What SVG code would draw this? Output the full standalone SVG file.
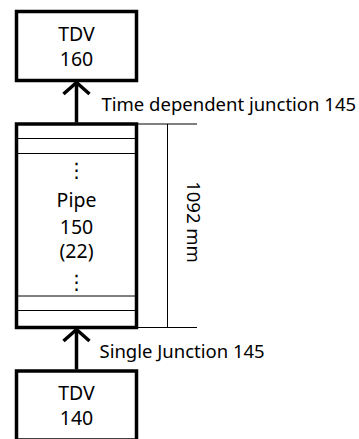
<svg xmlns="http://www.w3.org/2000/svg" width="359" height="439" viewBox="0 0 359 439">
<style>
  .box { fill: #ffffff; stroke: #000000; stroke-width: 3.5; }
  .thin { stroke: #000000; stroke-width: 1; fill: none; }
  .conn { stroke: #000000; stroke-width: 3.5; fill: none; }
  .t { font-family: "Noto Sans", "Liberation Sans", sans-serif; font-size: 19.5px; fill: #000000; text-anchor: middle; }
  .lbl { font-family: "Noto Sans", "Liberation Sans", sans-serif; font-size: 18.5px; fill: #000000; }
  .dots { font-family: "DejaVu Sans", sans-serif; font-size: 20px; fill: #000000; text-anchor: middle; }
</style>
<defs>
  <marker id="chev" markerUnits="userSpaceOnUse" orient="auto" overflow="visible" refX="0" refY="0" markerWidth="30" markerHeight="30">
    <path d="M-11.5,-13 L0,0 L-11.5,13" fill="none" stroke="#000000" stroke-width="3.5" stroke-linejoin="miter"/>
  </marker>
</defs>
<rect width="359" height="439" fill="#ffffff"/>

<g id="tdv160">
  <rect class="box" x="16.5" y="11.5" width="120" height="69"/>
  <text class="t" x="76.5" y="41">TDV</text>
  <text class="t" x="76.5" y="65.5">160</text>
</g>

<g id="pipe150">
  <rect class="box" x="16.5" y="124" width="120" height="203.5"/>
  <line class="thin" x1="18" y1="138.5" x2="135" y2="138.5"/>
  <line class="thin" x1="18" y1="153.5" x2="135" y2="153.5"/>
  <line class="thin" x1="18" y1="296" x2="135" y2="296"/>
  <line class="thin" x1="18" y1="310.5" x2="135" y2="310.5"/>
  <text class="dots" x="76.5" y="176.5">⋮</text>
  <text class="t" x="76.5" y="207">Pipe</text>
  <text class="t" x="76.5" y="233.5">150</text>
  <text class="t" x="76.5" y="258">(22)</text>
  <text class="dots" x="76.5" y="289">⋮</text>
</g>

<g id="tdv140">
  <rect class="box" x="16.5" y="371" width="120" height="69"/>
  <text class="t" x="76.5" y="399.5">TDV</text>
  <text class="t" x="76.5" y="425">140</text>
</g>

<g id="dimension">
  <line class="thin" x1="138" y1="124" x2="197" y2="124"/>
  <line class="thin" x1="138" y1="327.5" x2="197" y2="327.5"/>
  <line class="thin" x1="167.5" y1="124" x2="167.5" y2="327.5"/>
  <text class="lbl" text-anchor="middle" transform="translate(187,222) rotate(90)">1092 mm</text>
</g>

<g id="connectors">
  <line class="conn" x1="76.5" y1="122.5" x2="76.5" y2="82.5" marker-end="url(#chev)"/>
  <line class="conn" x1="76.5" y1="369.5" x2="76.5" y2="329.5" marker-end="url(#chev)"/>
  <text class="lbl" x="101.5" y="110.5">Time dependent junction 145</text>
  <text class="lbl" x="99.5" y="358.3">Single Junction 145</text>
</g>
</svg>
